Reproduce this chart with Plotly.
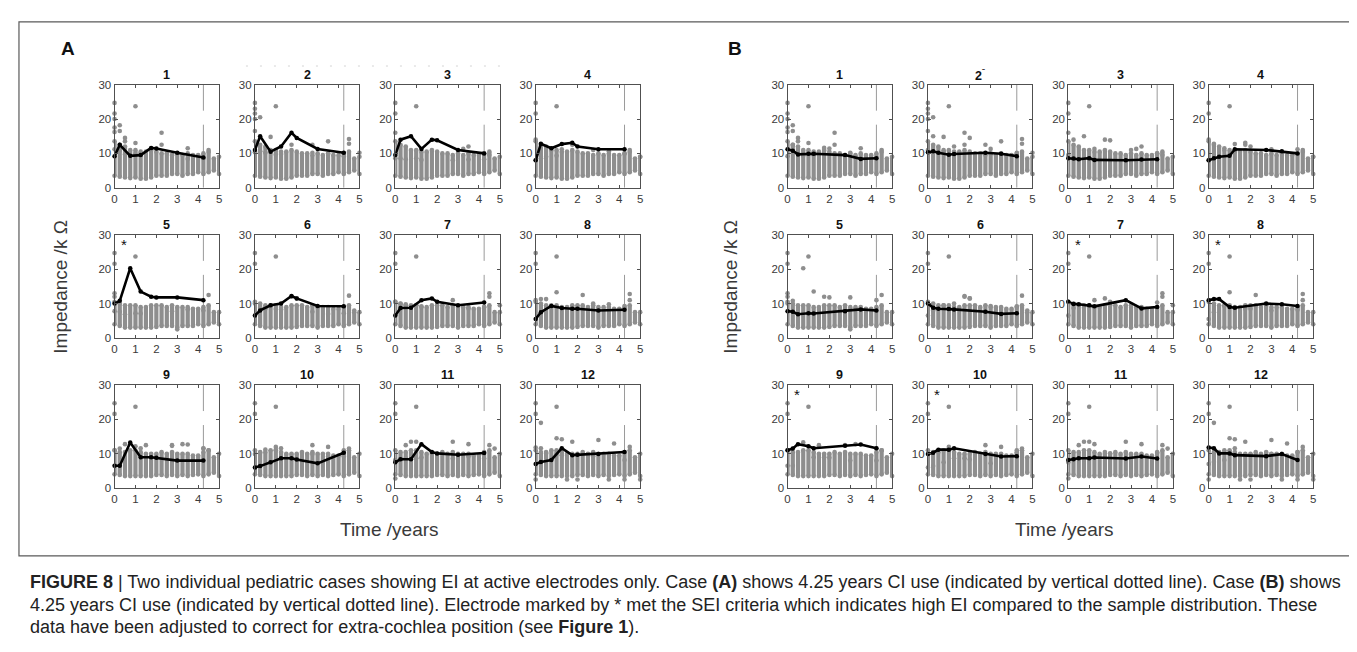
import plotly.graph_objects as go

W, H = 1357, 652

# ---------------- data ----------------
TIME_COLS = [0, 0.25, 0.5, 0.75, 1.0, 1.25, 1.5, 1.75, 2.0, 2.25, 2.5,
             2.75, 3.0, 3.25, 3.5, 3.75, 4.0, 4.25, 4.5, 4.75, 5.0]

# dense part of the sample distribution (per electrode row), kOhm
ROW1_LOW = [3.5, 3.2, 3.0, 2.8, 3.0, 2.6, 2.6, 3.0, 3.5, 3.5, 3.5, 4.0, 4.0, 3.5, 4.0, 4.0, 4.5, 4.0, 4.5, 5.0, 4.0]
ROW1_HIGH = [13.5, 12.5, 12.0, 11.0, 11.0, 10.5, 10.5, 11.0, 10.5, 10.0, 10.0, 9.5, 10.0, 9.5, 10.0, 9.5, 9.5, 10.0, 10.5, 8.5, 9.0]
ROW2_LOW = [4.0, 3.5, 3.0, 3.0, 3.0, 3.0, 3.0, 3.0, 3.2, 3.5, 3.5, 3.5, 3.0, 3.5, 3.5, 3.5, 4.0, 3.5, 4.0, 4.5, 4.0]
ROW2_HIGH = [10.5, 10.0, 9.5, 9.5, 9.5, 9.0, 9.0, 9.5, 9.5, 9.5, 9.0, 9.5, 9.0, 9.0, 9.0, 8.5, 8.5, 9.0, 9.5, 7.5, 7.5]
ROW3_LOW = [4.0, 3.8, 3.5, 3.5, 3.5, 3.5, 3.5, 3.5, 3.8, 3.8, 3.5, 3.8, 3.5, 3.8, 3.5, 3.8, 4.0, 3.5, 4.0, 4.5, 3.5]
ROW3_HIGH = [11.0, 10.5, 10.5, 11.0, 11.0, 10.5, 10.0, 10.0, 10.0, 10.5, 10.0, 10.5, 10.0, 10.0, 10.0, 9.5, 9.5, 10.5, 11.0, 9.0, 10.0]

COMMON_OUT_T = [0, 0, 1]
COMMON_OUT_V = [24.7, 21.6, 23.7]

EXTRA_T = {
    1: [0, 0, 0, 0.25, 0.25, 0.5, 0.5, 1, 2.25, 2.25, 3.5, 4.5],
    2: [0, 0, 0, 0.25, 0.75, 1.75, 2.75, 3.5, 4.5, 4.5, 5],
    3: [0, 3.25, 3.5, 4.5],
    4: [0, 1.75, 4.5, 5],
    5: [0, 0, 4.5, 3.0],
    6: [1.75, 2.0, 4.5, 4.75],
    7: [4.5, 4.5, 5],
    8: [1, 2.25, 4.5, 4.5],
    9: [1.5, 2.75, 3.25, 4.25, 4.5],
    10: [1.0, 2.75, 3.5, 4.5, 4.25],
    11: [0.5, 0.75, 1.0, 2.75, 3.5, 0, 4.5, 4.75],
    12: [0.25, 1.0, 1.25, 1.75, 3.0, 3.75, 1.5, 2.0, 3.5, 0, 5, 4.25, 4.5],
}
EXTRA_V = {
    1: [20.0, 17.5, 16.2, 18.2, 16.5, 14.5, 13.5, 13.0, 16.0, 12.5, 11.5, 11.0],
    2: [23.0, 20.0, 16.5, 20.5, 14.8, 12.5, 12.5, 13.5, 14.2, 12.8, 10.2],
    3: [16.0, 11.3, 12.0, 9.5],
    4: [14.0, 12.5, 11.0, 9.0],
    5: [13.0, 12.0, 12.5, 2.5],
    6: [12.0, 11.5, 12.3, 8.0],
    7: [12.0, 13.0, 9.5],
    8: [13.3, 12.5, 12.8, 11.0],
    9: [12.5, 12.5, 12.8, 11.5, 11.0],
    10: [12.0, 12.5, 12.0, 11.5, 11.0],
    11: [12.5, 13.5, 13.5, 13.5, 12.8, 2.8, 12.5, 11.5],
    12: [19.0, 14.5, 14.2, 13.5, 14.0, 13.0, 2.5, 2.5, 2.5, 2.5, 2.5, 2.5, 12.0],
}

# individual cases
CASE_A_T = [0, 0.25, 0.75, 1.25, 1.75, 2.0, 3.0, 4.25]
CASE_A_V = {
    1: [9.2, 12.5, 9.3, 9.5, 11.6, 11.4, 10.2, 8.8],
    2: [11.0, 15.0, 10.5, 12.0, 16.0, 14.5, 11.3, 10.2],
    3: [9.5, 14.0, 15.0, 11.3, 14.0, 13.8, 11.0, 10.0],
    4: [8.0, 12.8, 11.5, 12.7, 13.1, 12.0, 11.2, 11.2],
    5: [10.0, 10.8, 20.3, 13.5, 12.0, 11.8, 11.8, 11.0],
    6: [6.5, 8.0, 9.5, 10.0, 12.2, 11.5, 9.3, 9.2],
    7: [6.5, 8.7, 8.8, 11.0, 11.5, 10.5, 9.5, 10.3],
    8: [5.5, 7.5, 9.3, 8.7, 8.5, 8.5, 8.0, 8.2],
    9: [6.5, 6.5, 13.3, 9.0, 9.0, 8.8, 8.0, 8.0],
    10: [6.0, 6.4, 7.5, 8.7, 8.7, 8.3, 7.2, 10.3],
    11: [7.5, 8.4, 8.4, 12.8, 10.5, 10.1, 9.7, 10.2],
    12: [7.0, 7.6, 8.2, 11.6, 9.6, 9.7, 9.9, 10.5],
}
CASE_B_T = [0, 0.25, 0.5, 1.0, 1.25, 2.75, 3.5, 4.25]
CASE_B_V = {
    1: [11.2, 10.8, 9.7, 9.9, 9.9, 9.5, 8.4, 8.6],
    2: [10.3, 10.6, 10.2, 9.6, 9.8, 10.2, 9.9, 9.2],
    3: [8.6, 8.5, 8.3, 8.6, 8.1, 8.0, 8.2, 8.3],
    4: [8.0, 8.6, 9.0, 9.3, 11.2, 11.0, 10.6, 10.0],
    5: [7.8, 7.6, 6.9, 7.2, 7.1, 7.8, 8.3, 8.0],
    6: [10.0, 8.8, 8.5, 8.4, 8.3, 7.6, 7.0, 7.2],
    7: [10.5, 9.9, 9.8, 9.5, 9.2, 11.0, 8.6, 9.0],
    8: [11.0, 11.3, 11.3, 9.0, 8.8, 10.0, 9.8, 9.3],
    9: [11.0, 11.5, 12.8, 12.2, 11.6, 12.3, 12.7, 11.6],
    10: [9.9, 10.3, 11.2, 11.2, 11.6, 9.9, 9.2, 9.3],
    11: [8.2, 8.4, 8.7, 8.7, 8.9, 8.6, 9.2, 8.6],
    12: [11.8, 11.6, 10.1, 10.1, 9.6, 9.3, 9.9, 8.2],
}
SEI_A = [5]
SEI_B = [7, 8, 9, 10]
CI_USE_YEARS = 4.25
ELECTRODES = list(range(1, 13))
TITLES_B = {2: "2<sup>ˉ</sup>"}

ROW_LOW = {0: ROW1_LOW, 1: ROW2_LOW, 2: ROW3_LOW}
ROW_HIGH = {0: ROW1_HIGH, 1: ROW2_HIGH, 2: ROW3_HIGH}

# ---------------- layout geometry (pixels) ----------------
PANEL_LEFTS = {"A": [104, 245, 386, 527], "B": [780, 921, 1062, 1203]}
ROW_TOPS = [72, 225, 378]
AX_W, AX_H = 105, 105

GRAY = "#8e8e8e"
AXC = "#505050"
FONT = "Liberation Sans, Arial, sans-serif"

fig = go.Figure()
layout = dict(width=W, height=H, margin=dict(l=0, r=0, t=0, b=0),
              paper_bgcolor="white", plot_bgcolor="white", showlegend=False,
              font=dict(family=FONT, color="#333"))
annotations = []
shapes = []

k = 0
for panel in ["A", "B"]:
    own_t, own_v = (CASE_A_T, CASE_A_V) if panel == "A" else (CASE_B_T, CASE_B_V)
    oth_t, oth_v = (CASE_B_T, CASE_B_V) if panel == "A" else (CASE_A_T, CASE_A_V)
    sei = SEI_A if panel == "A" else SEI_B
    for e in ELECTRODES:
        k += 1
        r, c = (e - 1) // 4, (e - 1) % 4
        left = PANEL_LEFTS[panel][c]
        top = ROW_TOPS[r]
        xa = "x" if k == 1 else f"x{k}"
        ya = "y" if k == 1 else f"y{k}"
        xkey = "xaxis" if k == 1 else f"xaxis{k}"
        ykey = "yaxis" if k == 1 else f"yaxis{k}"
        common = dict(showline=True, mirror="ticks", linecolor=AXC, linewidth=1,
                      ticks="inside", ticklen=3, tickcolor=AXC, showgrid=False,
                      zeroline=False, tickfont=dict(size=11.5, color="#3a3a3a", family=FONT),
                      fixedrange=True)
        layout[xkey] = dict(domain=[left / W, (left + AX_W) / W], range=[0, 5],
                            tickvals=[0, 1, 2, 3, 4, 5], anchor=ya, **common)
        layout[ykey] = dict(domain=[1 - (top + AX_H) / H, 1 - top / H], range=[0, 30],
                            tickvals=[0, 10, 20, 30], anchor=xa, **common)

        # CI-use marker line
        fig.add_trace(go.Scatter(x=[CI_USE_YEARS, CI_USE_YEARS], y=[30, 0], mode="lines",
                                 line=dict(color="#9a9a9a", width=1, dash="26px,14px,90px,10px"),
                                 xaxis=xa, yaxis=ya, hoverinfo="skip"))
        # dense strips
        lo, hi = ROW_LOW[r], ROW_HIGH[r]
        sx, sy = [], []
        for t, a, b in zip(TIME_COLS, lo, hi):
            sx += [t, t, None]
            sy += [a, b, None]
        fig.add_trace(go.Scatter(x=sx, y=sy, mode="lines", line=dict(color=GRAY, width=4.2),
                                 xaxis=xa, yaxis=ya, cliponaxis=False, hoverinfo="skip"))
        # individual dots (strip ends, outliers, the other case)
        dx = TIME_COLS + TIME_COLS + COMMON_OUT_T + EXTRA_T[e] + oth_t
        dy = lo + hi + COMMON_OUT_V + EXTRA_V[e] + oth_v[e]
        fig.add_trace(go.Scatter(x=dx, y=dy, mode="markers",
                                 marker=dict(color=GRAY, size=4.6, line=dict(width=0)),
                                 xaxis=xa, yaxis=ya, cliponaxis=False, hoverinfo="skip"))
        # the individual case
        fig.add_trace(go.Scatter(x=own_t, y=own_v[e], mode="lines+markers",
                                 line=dict(color="black", width=2.6),
                                 marker=dict(color="black", size=4.5),
                                 xaxis=xa, yaxis=ya, cliponaxis=False, hoverinfo="skip"))
        title = TITLES_B.get(e, str(e)) if panel == "B" else str(e)
        annotations.append(dict(text=f"<b>{title}</b>", x=(left + AX_W / 2) / W,
                                y=1 - (top - 10) / H, xref="paper", yref="paper",
                                showarrow=False, font=dict(size=12.5, color="#111", family=FONT),
                                xanchor="center", yanchor="middle"))
        if e in sei:
            annotations.append(dict(text="*", x=0.45, y=27.3, xref=xa, yref=ya, showarrow=False,
                                    font=dict(size=15, color="#111", family=FONT),
                                    xanchor="center", yanchor="middle"))

# panel letters and axis labels
for letter, px in [("A", 57), ("B", 727)]:
    annotations.append(dict(text=f"<b>{letter}</b>", x=px / W, y=1 - 35 / H, xref="paper",
                            yref="paper", showarrow=False, xanchor="center", yanchor="middle",
                            font=dict(size=19, color="#111", family=FONT)))
for px in [50, 723]:
    annotations.append(dict(text="Impedance /k Ω", x=px / W, y=1 - 278 / H, xref="paper",
                            yref="paper", showarrow=False, textangle=-90, xanchor="center",
                            yanchor="middle", font=dict(size=19, color="#3a3a3a", family=FONT)))
for px in [380, 1058]:
    annotations.append(dict(text="Time /years", x=px / W, y=1 - 525 / H, xref="paper",
                            yref="paper", showarrow=False, xanchor="center", yanchor="middle",
                            font=dict(size=19, color="#3a3a3a", family=FONT)))

# frame
shapes.append(dict(type="rect", xref="paper", yref="paper", x0=8 / W, x1=1351 / W,
                   y0=1 - 552 / H, y1=1 - 8 / H, line=dict(color="#5a5a5a", width=1.2)))
# faint scanning artefact above panels A2/A3
shapes.append(dict(type="line", xref="paper", yref="paper", x0=236 / W, x1=492 / W,
                   y0=1 - 53 / H, y1=1 - 53 / H,
                   line=dict(color="#d4d4d4", width=1, dash="2px,12px")))

CAPTION = [
    "<b>FIGURE 8</b> | Two individual pediatric cases showing EI at active electrodes only. Case <b>(A)</b> shows 4.25 years CI use (indicated by vertical dotted line). Case <b>(B)</b> shows",
    "4.25 years CI use (indicated by vertical dotted line). Electrode marked by * met the SEI criteria which indicates high EI compared to the sample distribution. These",
    "data have been adjusted to correct for extra-cochlea position (see <b>Figure 1</b>).",
]
for i, line in enumerate(CAPTION):
    annotations.append(dict(text=line, x=17 / W, y=1 - (579 + 23 * i) / H, xref="paper",
                            yref="paper", showarrow=False, xanchor="left", yanchor="middle",
                            font=dict(size=18, color="#222", family=FONT)))

layout["annotations"] = annotations
layout["shapes"] = shapes
fig.update_layout(**layout)
fig.write_html("out.html")
